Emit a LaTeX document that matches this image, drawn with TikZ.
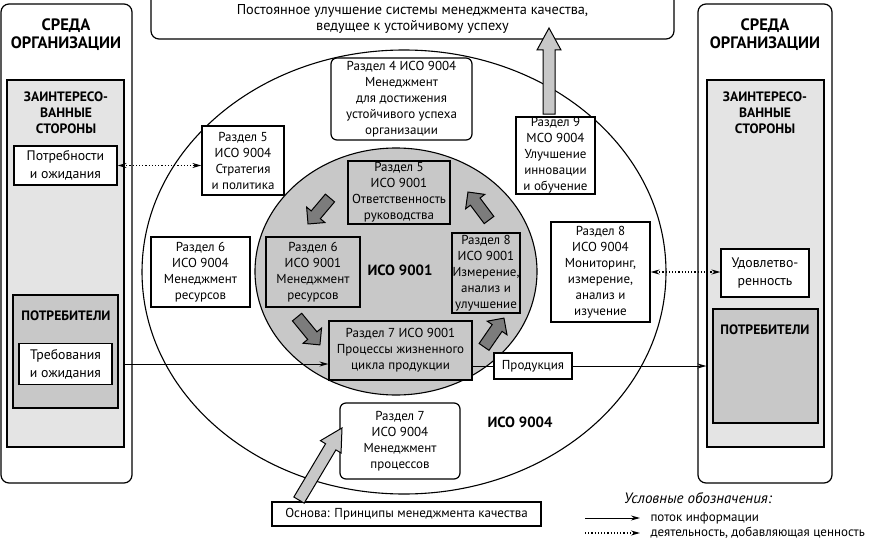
\documentclass[tikz,border=0pt]{standalone}
\usepackage{fontspec}
\setmainfont{PT Sans}
\usetikzlibrary{arrows.meta,shapes.geometric}
\definecolor{paleGray}{HTML}{E4E4E4}
\definecolor{midGray}{HTML}{C8C8C8}
\definecolor{darkGray}{HTML}{7C7C7C}
\tikzset{
  txt/.style={align=center, font=\fontsize{13}{16}\selectfont},
  bigtxt/.style={align=center, font=\fontsize{13.8}{18}\selectfont},
  box/.style={draw, line width=1.2pt, inner sep=0pt, txt},
  envbox/.style={draw, line width=1.2pt, rounded corners=8pt, inner sep=0pt},
  headline/.style={align=center, font=\bfseries\fontsize{16.5}{18}\selectfont},
  subhead/.style={align=center, font=\bfseries\fontsize{13.6}{16}\selectfont},
  pics/blkarrow/.style args={#1/#2}{code={
    \draw[pic actions, line width=1pt, line join=miter]
      (-#1,-6) -- ({#1-#2},-6) -- ({#1-#2},-12) -- (#1,0)
      -- ({#1-#2},12) -- ({#1-#2},6) -- (-#1,6) -- cycle;}},
  flow/.style={line width=1pt, -{Stealth[length=9pt,width=5pt]}},
  value/.style={line width=1.2pt, dotted, {Stealth[length=9pt,width=5pt]}-{Stealth[length=9pt,width=5pt]}}
}
\begin{document}
\begin{tikzpicture}[x=1pt, y=-1pt]
\useasboundingbox (0,0) rectangle (870,543);
\clip (0,0) rectangle (870,543);

% organisation environment, left
\node[envbox, minimum width=131pt, minimum height=479pt] (envl) at (66.5,243.5) {};
\node[headline] (envlt) at (66,35) {СРЕДА\\ОРГАНИЗАЦИИ};
\node[box, fill=paleGray, minimum width=117pt, minimum height=367pt] (stakel) at (65.5,263.5) {};
\node[subhead] (stakelt) at (66,113) {ЗАИНТЕРЕСО-\\ВАННЫЕ\\СТОРОНЫ};
\node[box, bigtxt, fill=white, minimum width=103pt, minimum height=39pt] (needs) at (65.5,165.5) {Потребности\\и ожидания};
\node[box, fill=midGray, minimum width=105pt, minimum height=113pt] (consl) at (65.5,351.5) {};
\node[subhead] (conslt) at (66,316) {ПОТРЕБИТЕЛИ};
\node[box, bigtxt, fill=white, minimum width=93pt, minimum height=41pt] (req) at (65.5,364) {Требования\\и ожидания};

% organisation environment, right
\node[envbox, minimum width=134pt, minimum height=479pt] (envr) at (765,243.5) {};
\node[headline] (envrt) at (765,35) {СРЕДА\\ОРГАНИЗАЦИИ};
\node[box, fill=paleGray, minimum width=117pt, minimum height=367pt] (staker) at (765.5,263.5) {};
\node[subhead] (stakert) at (765,113) {ЗАИНТЕРЕСО-\\ВАННЫЕ\\СТОРОНЫ};
\node[box, bigtxt, fill=white, minimum width=88pt, minimum height=48pt] (sat) at (765,273) {Удовлетво-\\ренность};
\node[box, fill=midGray, minimum width=105pt, minimum height=114pt] (consr) at (765.5,366) {};
\node[subhead] (consrt) at (765,330) {ПОТРЕБИТЕЛИ};

% top goal
\node[envbox, minimum width=523pt, minimum height=49pt] (goal) at (412.5,14.5) {};
\node[align=center, font=\fontsize{14.3}{16}\selectfont] (goalt) at (412.5,18.5) {Постоянное улучшение системы менеджмента качества,\\ведущее к устойчивому успеху};

% ISO 9004 and ISO 9001
\node[draw, ellipse, line width=1.1pt, minimum width=524pt, minimum height=444pt] (iso4) at (404,272) {};
\node[draw, ellipse, line width=1.1pt, fill=midGray, minimum width=282pt, minimum height=247pt] (iso1) at (396,271.5) {};
\node[font=\bfseries\fontsize{14.8}{16}\selectfont] (iso1t) at (400,270) {ИСО 9001};
\node[font=\bfseries\fontsize{14.8}{16}\selectfont] (iso4t) at (520,422) {ИСО 9004};

\node[box, rounded corners=6pt, fill=white, minimum width=141pt, minimum height=82pt] (r4b) at (401.5,99) {Раздел 4 ИСО 9004\\Менеджмент\\для достижения\\устойчивого успеха\\организации};
\node[box, fill=white, minimum width=82pt, minimum height=69pt] (r5b) at (243,160.5) {Раздел 5\\ИСО 9004\\Стратегия\\и политика};
\node[box, fill=white, minimum width=79pt, minimum height=77pt] (r9b) at (555.5,155.5) {Раздел 9\\МСО 9004\\Улучшение\\инновации\\и обучение};
\node[box, fill=white, minimum width=99pt, minimum height=70pt] (r6b) at (200.5,272) {Раздел 6\\ИСО 9004\\Менеджмент\\ресурсов};
\node[box, fill=white, minimum width=99pt, minimum height=100pt] (r8b) at (600.5,272) {Раздел 8\\ИСО 9004\\Мониторинг,\\измерение,\\анализ и\\изучение};
\node[box, rounded corners=6pt, fill=white, minimum width=120pt, minimum height=76pt] (r7b) at (400,441) {Раздел 7\\ИСО 9004\\Менеджмент\\процессов};
\node[box, fill=white, minimum width=78pt, minimum height=26pt] (prod) at (533,366) {Продукция};
\node[box, fill=white, minimum width=269pt, minimum height=24pt] (base) at (406.5,514) {Основа: Принципы менеджмента качества};

\node[box, fill=midGray, minimum width=102pt, minimum height=63pt] (r5a) at (399,192.5) {Раздел 5\\ИСО 9001\\Ответственность\\руководства};
\node[box, fill=midGray, minimum width=94pt, minimum height=70pt] (r6a) at (313,272) {Раздел 6\\ИСО 9001\\Менеджмент\\ресурсов};
\node[box, fill=midGray, minimum width=68pt, minimum height=80pt] (r8a) at (486,273) {Раздел 8\\ИСО 9001\\Измерение,\\анализ и\\улучшение};
\node[box, fill=midGray, minimum width=143pt, minimum height=59pt] (r7a) at (400.5,350.5) {Раздел 7 ИСО 9001\\Процессы жизненного\\цикла продукции};

% cycle arrows
\pic[rotate=229.8, fill=darkGray] at (319,211) {blkarrow=17/12};
\pic[rotate=-50.6, fill=darkGray] at (308.5,331) {blkarrow=18/12};
\pic[rotate=55.4, fill=darkGray] at (494,332.5) {blkarrow=17.5/12};
\pic[rotate=126.9, fill=darkGray] at (478.5,206) {blkarrow=17.5/12};

% improvement and basis arrows
\pic[rotate=90, fill=midGray] at (549,71) {blkarrow=43/22};
\pic[rotate=59.2, fill=midGray] at (320.5,464) {blkarrow=42/22};

% flows
\draw[value] (needs.east) -- (needs.east -| r5b.west);
\draw[value] (r8b.east) -- (r8b.east -| sat.west);
\draw[flow] (req.east -| stakel.east) -- (req.east -| r7a.west);
\draw[line width=1pt] (r7a.east |- prod.west) -- (prod.west);
\draw[flow] (prod.east) -- (prod.east -| staker.west);

% legend
\node[font=\itshape\fontsize{15}{16}\selectfont] (legt) at (698,498) {Условные обозначения:};
\coordinate (l1a) at (585,518);
\coordinate (l1b) at (640,518);
\coordinate (l2a) at (585,533);
\coordinate (l2b) at (640,533);
\draw[flow] (l1a) -- (l1b);
\draw[line width=1.2pt, dotted, -{Stealth[length=9pt,width=5pt]}] (l2a) -- (l2b);
\node[anchor=west, font=\fontsize{13}{15}\selectfont] (l1t) at (647,518) {поток информации};
\node[anchor=west, font=\fontsize{13}{15}\selectfont] (l2t) at (647,533) {деятельность, добавляющая ценность};
\end{tikzpicture}
\end{document}
